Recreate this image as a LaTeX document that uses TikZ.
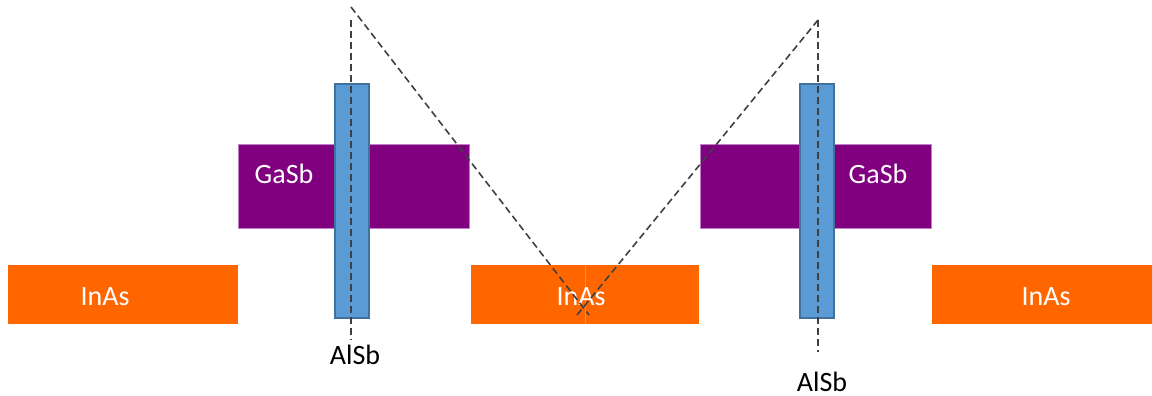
\documentclass[tikz,border=0pt]{standalone}
\usepackage{fontspec}
\setmainfont{Carlito}
\definecolor{inas}{HTML}{FF6600}
\definecolor{gasb}{HTML}{800080}
\definecolor{gasbedge}{HTML}{C080C8}
\definecolor{alsb}{HTML}{5B9BD5}
\definecolor{alsbedge}{HTML}{41719C}
\definecolor{dashc}{HTML}{404040}
\begin{document}
\begin{tikzpicture}[x=1pt,y=-1pt,
  box/.style={rectangle,inner sep=0pt,outer sep=0pt},
  inasbox/.style={box,fill=inas,minimum height=59pt},
  gasbbox/.style={box,fill=gasb,draw=gasbedge,line width=0.8pt,minimum height=84pt,minimum width=231pt},
  alsbbar/.style={box,fill=alsb,draw=alsbedge,line width=1.6pt,minimum width=34pt,minimum height=234pt},
  lbl/.style={font=\fontsize{28}{30}\selectfont,inner sep=0pt,anchor=base},
  wlbl/.style={lbl,text=white},
  guide/.style={dashc,dashed,dash pattern=on 7pt off 4pt,line width=1.6pt}]
\useasboundingbox (0,0) rectangle (1152,396);
\fill[white] (0,0) rectangle (1152,396);
% GaSb
\node[gasbbox] (g1) at (353.5,186) {};
\node[gasbbox] (g2) at (815.5,186) {};
% InAs
\node[inasbox,minimum width=230pt] (i1) at (123,294.5) {};
\node[inasbox,minimum width=228pt] (i2) at (585,294.5) {};
\node[inasbox,minimum width=220pt] (i3) at (1042,294.5) {};
\draw[inas!75!white,line width=0.5pt] (i2.north) -- (i2.south);
% labels
\node[wlbl] (tg1) at (284,183) {GaSb};
\node[wlbl] (tg2) at (878,183) {GaSb};
\node[wlbl] (ti1) at (105,305) {InAs};
\node[wlbl] (ti2) at (581,305) {InAs};
\node[wlbl] (ti3) at (1046,305) {InAs};
% AlSb bars
\node[alsbbar] (a1) at (352,201) {};
\node[alsbbar] (a2) at (817,201) {};
\node[lbl] (ta1) at (355,364) {AlSb};
\node[lbl] (ta2) at (822,391) {AlSb};
% guide lines
\coordinate (p1) at (351,7);
\coordinate (v1t) at (351,20);
\coordinate (v1b) at (351,340);
\coordinate (q1) at (589,315);
\coordinate (p2) at (818,20);
\coordinate (v2b) at (818,352);
\coordinate (q2) at (577,315);
\draw[guide] (v1t) -- (v1b);
\draw[guide] (p1) -- (q1);
\draw[guide] (p2) -- (q2);
\draw[guide] (p2) -- (v2b);
\end{tikzpicture}
\end{document}
